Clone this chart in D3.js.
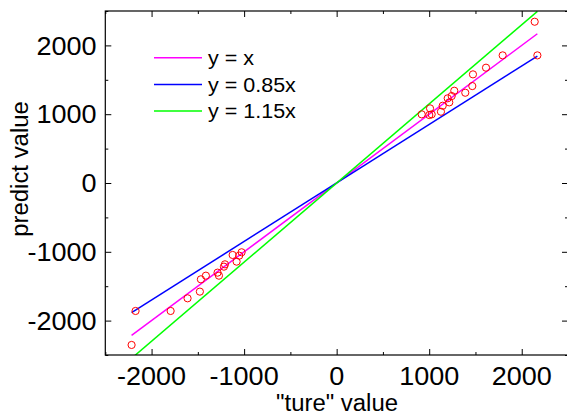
<!DOCTYPE html>
<html>
<head>
<meta charset="utf-8">
<script src="https://cdn.jsdelivr.net/npm/d3@7"></script>
<style>
  body { margin: 0; background: #fff; }
  svg { display: block; font-family: "Liberation Sans", Arial, sans-serif; }
</style>
</head>
<body>
<svg id="chart" width="567" height="415"></svg>
<script>
// "ture" values (x) and predicted values (y)
const trueVals = [
  -2216, -2173, -1794, -1611, -1478, -1467, -1413, -1287, -1272, -1218,
  -1207, -1124, -1081, -1053, -1027,
  919, 1001, 1009, 1027, 1127, 1146, 1200, 1217, 1243, 1271,
  1390, 1466, 1473, 1614, 1794, 2140, 2169
];
const predVals = [
  -2354, -1860, -1860, -1676, -1579, -1400, -1347, -1303, -1347, -1216,
  -1182, -1046, -1143, -1056, -1007,
  998, 988, 1085, 998, 1036, 1123, 1231, 1172, 1264, 1341,
  1312, 1409, 1579, 1676, 1855, 2344, 1855
];

// reference lines y = k * x
const fitLabels = ["y = x", "y = 0.85x", "y = 1.15x"];
const fitSlopes = [1, 0.85, 1.15];
const fitColors = ["#ff00ff", "#0000ff", "#00ff00"];

const majorTicks = [-2000, -1000, 0, 1000, 2000];
const minorTicks = [-2500, -1500, -500, 500, 1500, 2500];

const svg = d3.select("#chart");
const plotLeft = 105.3, plotRight = 568, plotTop = 11, plotBottom = 355;

const x = d3.scaleLinear().domain([-2500, 2500]).range([plotLeft, plotRight]);
const y = d3.scaleLinear().domain([-2500, 2500]).range([plotBottom, plotTop]);

svg.append("defs").append("clipPath").attr("id", "plot-clip")
  .append("rect")
  .attr("x", plotLeft).attr("y", plotTop)
  .attr("width", plotRight - plotLeft).attr("height", plotBottom - plotTop);

const plot = svg.append("g").attr("clip-path", "url(#plot-clip)");

// lines drawn over the data's x range
const xMin = d3.min(trueVals), xMax = d3.max(trueVals);
fitSlopes.forEach((k, i) => {
  plot.append("line")
    .attr("x1", x(xMin)).attr("y1", y(k * xMin))
    .attr("x2", x(xMax)).attr("y2", y(k * xMax))
    .attr("stroke", fitColors[i])
    .attr("stroke-width", 1.5);
});

// data points
plot.selectAll("circle.pt")
  .data(trueVals.map((v, i) => [v, predVals[i]]))
  .enter()
  .append("circle")
  .attr("class", "pt")
  .attr("cx", (d) => x(d[0]))
  .attr("cy", (d) => y(d[1]))
  .attr("r", 3.6)
  .attr("fill", "none")
  .attr("stroke", "#ff0000")
  .attr("stroke-width", 1);

// axes, ticks pointing inward on all four sides
function tickAxis(axisFn, scale, values, size) {
  return axisFn(scale).tickValues(values).tickSize(size).tickFormat("");
}

const axes = svg.append("g").attr("class", "axes");
axes.append("g").attr("transform", `translate(0,${plotBottom})`)
  .call(tickAxis(d3.axisTop, x, majorTicks, 6));
axes.append("g").attr("transform", `translate(0,${plotBottom})`)
  .call(tickAxis(d3.axisTop, x, minorTicks, 3));
axes.append("g").attr("transform", `translate(0,${plotTop})`)
  .call(tickAxis(d3.axisBottom, x, majorTicks, 6));
axes.append("g").attr("transform", `translate(0,${plotTop})`)
  .call(tickAxis(d3.axisBottom, x, minorTicks, 3));
axes.append("g").attr("transform", `translate(${plotLeft},0)`)
  .call(tickAxis(d3.axisRight, y, majorTicks, 6));
axes.append("g").attr("transform", `translate(${plotLeft},0)`)
  .call(tickAxis(d3.axisRight, y, minorTicks, 3));
axes.append("g").attr("transform", `translate(${plotRight - 6},0)`)
  .call(tickAxis(d3.axisRight, y, majorTicks, 6));
axes.append("g").attr("transform", `translate(${plotRight - 3},0)`)
  .call(tickAxis(d3.axisRight, y, minorTicks, 3));

axes.selectAll(".domain").remove();
axes.selectAll(".tick line").attr("stroke", "#000").attr("stroke-width", 1);

svg.append("rect")
  .attr("x", plotLeft).attr("y", plotTop)
  .attr("width", plotRight - plotLeft).attr("height", plotBottom - plotTop)
  .attr("fill", "none")
  .attr("stroke", "#000")
  .attr("stroke-width", 1.2);

// text in the original is slightly wider than Arial, so stretch it a bit
function stretchedText(g, px, py, str, size, anchor, sx, rot) {
  const rotate = rot ? ` rotate(${rot})` : "";
  return g.append("text")
    .attr("transform", `translate(${px},${py})${rotate} scale(${sx},1)`)
    .attr("text-anchor", anchor)
    .attr("font-size", size)
    .text(str);
}

// tick labels
majorTicks.forEach((t) => {
  stretchedText(svg, x(t), 385, t, 25.5, "middle", 1.06);
  stretchedText(svg, 96.5, y(t) + 9.2, t, 25.5, "end", 1.06);
});

// axis titles
stretchedText(svg, 337, 410.5, '"ture" value', 23, "middle", 1.04);
stretchedText(svg, 28, 169, "predict value", 23, "middle", 1.04, -90);

// legend
const legend = svg.append("g");
fitLabels.forEach((label, i) => {
  const ly = 57.7 + i * 26.7;
  legend.append("line")
    .attr("x1", 154).attr("x2", 202)
    .attr("y1", ly).attr("y2", ly)
    .attr("stroke", fitColors[i])
    .attr("stroke-width", 1.5);
  stretchedText(legend, 208, ly + 7.3, label, 20.5, "start", 1.05);
});
</script>
</body>
</html>
